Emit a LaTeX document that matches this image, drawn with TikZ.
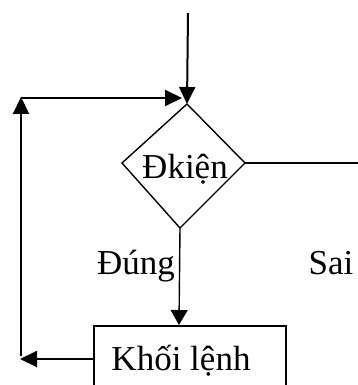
\documentclass[tikz,border=0pt]{standalone}
\usepackage{fontspec}
\setmainfont{Liberation Serif}
\usetikzlibrary{arrows.meta}
\begin{document}
\begin{tikzpicture}[x=1pt,y=-1pt,
  heavy/.style={line width=2pt},
  light/.style={line width=1.4pt},
  tip/.style={-{Triangle[length=17pt,width=16pt]}},
  lbl/.style={font=\fontsize{35}{40}\selectfont, inner sep=0pt, anchor=base}]
\useasboundingbox (0,0) rectangle (358,385);
\clip (0,0) rectangle (358,385);

% decision shape
\coordinate (start)  at (188,13);
\coordinate (dtop)   at (187,104);
\coordinate (dleft)  at (122,163);
\coordinate (dright) at (245,163);
\coordinate (dbot)   at (180,228);
\coordinate (exit)   at (362,163);
\draw[light, line join=miter] (dtop) -- (dright) -- (dbot) -- (dleft) -- cycle;
\node[lbl] (cond) at (185,178) {Đkiện};

% statement block
\node[draw, heavy, minimum width=192pt, minimum height=100pt, inner sep=0pt,
      anchor=north west] (box) at (93,325) {};
\node[lbl] (body) at (181,370) {Khối lệnh};

% branch labels
\node[lbl] (yes) at (136,274) {Đúng};
\node[lbl] (no)  at (331,274) {Sai};

% loop path coordinates
\coordinate (boxin)   at (179,325);
\coordinate (boxout)  at (93,359);
\coordinate (back)    at (20,359);
\coordinate (upfrom)  at (21,356);
\coordinate (upto)    at (21,97);
\coordinate (topleft) at (21,98);
\coordinate (entry)   at (182,98);

% connectors
\draw[heavy, tip] (start) -- (dtop);
\draw[light] (dright) -- (exit);
\draw[light, -{Triangle[length=15pt,width=17pt]}] (dbot) -- (boxin);
\draw[heavy, tip] (boxout) -- (back);
\draw[heavy, tip] (upfrom) -- (upto);
\draw[heavy, tip] (topleft) -- (entry);
\end{tikzpicture}
\end{document}
